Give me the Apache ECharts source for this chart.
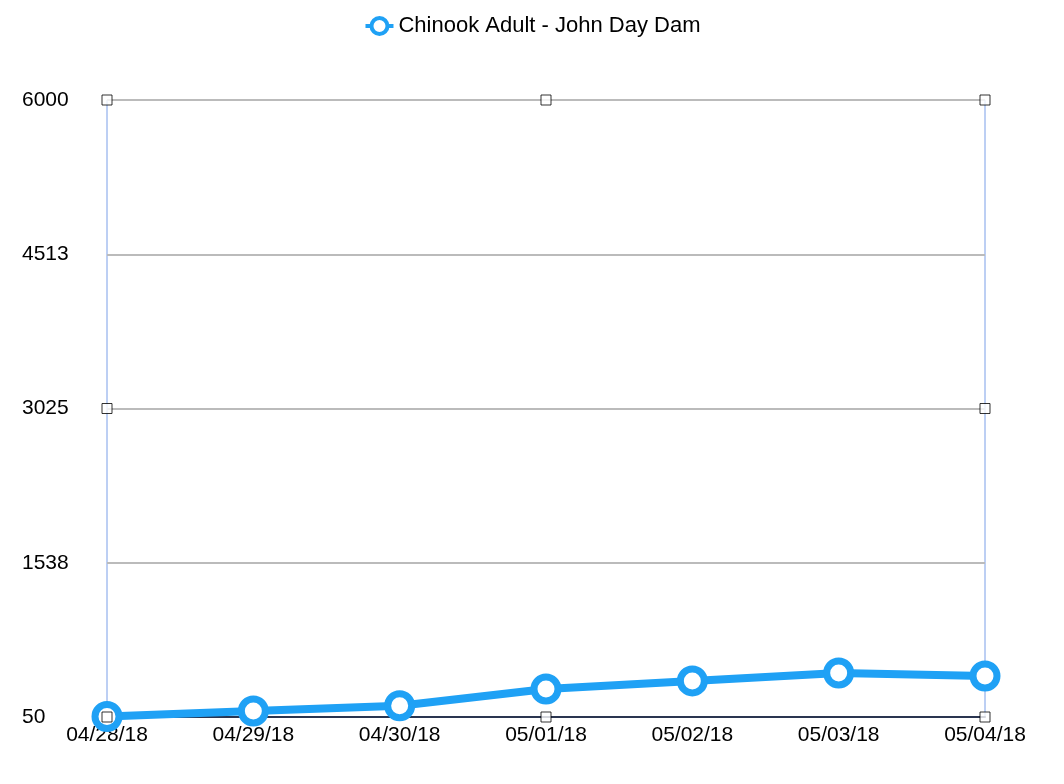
<!DOCTYPE html>
<html><head><meta charset="utf-8">
<script src="https://cdn.jsdelivr.net/npm/echarts@6/dist/echarts.min.js"></script>
<style>html,body{margin:0;padding:0;background:#fff}#c{width:1064px;height:784px}</style>
</head><body><div id="c"></div>
<script>
const categories = ['04/28/18','04/29/18','04/30/18','05/01/18','05/02/18','05/03/18','05/04/18'];
const values = [55, 108, 158, 320, 398, 475, 445];
const handles = [[0,50],[3,50],[6,50],[0,3025],[6,3025],[0,6000],[3,6000],[6,6000]];
const chart = echarts.init(document.getElementById('c'));
chart.setOption({
  animation:false,
  textStyle:{fontFamily:'Liberation Sans, Arial, sans-serif'},
  legend:{top:10,left:'center',data:['Chinook Adult - John Day Dam'],
    itemWidth:28,itemHeight:20,itemGap:10,textStyle:{fontSize:22,color:'#000'},
    itemStyle:{color:'#fff',borderColor:'#1fa1f5',borderWidth:4},lineStyle:{color:'#1fa1f5',width:4}},
  grid:{left:107,right:79,top:100,bottom:67,show:true,borderColor:'#7b9fe8',borderWidth:1},
  xAxis:{type:'category',data:categories,boundaryGap:false,
    axisLine:{lineStyle:{color:'#2a3550',width:2}},axisTick:{show:false},
    axisLabel:{fontSize:21,color:'#000',margin:8}},
  yAxis:{type:'value',min:50,max:6000,interval:1487.5,
    axisLine:{show:false},axisTick:{show:false},
    splitLine:{lineStyle:{color:'#bbbbbb',width:2}},
    axisLabel:{fontSize:21,color:'#000',margin:85,align:'left',formatter:v=>Math.round(v)}},
  series:[
    {name:'Chinook Adult - John Day Dam',type:'line',data:values,
     lineStyle:{width:8,color:'#1fa1f5'},symbol:'circle',symbolSize:24,
     itemStyle:{color:'#fff',borderColor:'#1fa1f5',borderWidth:7},z:3},
    {type:'scatter',data:handles,symbol:'rect',symbolSize:10,silent:true,
     itemStyle:{color:'#fff',borderColor:'#000',borderWidth:1},z:5}
  ]
});
</script></body></html>
